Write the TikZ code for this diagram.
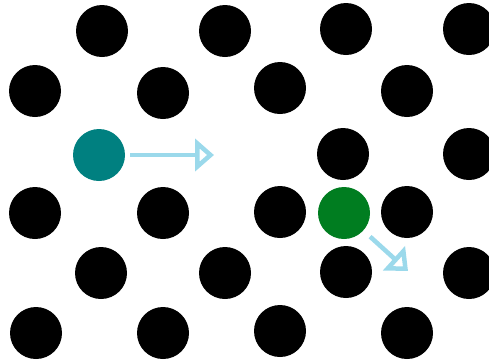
\documentclass[tikz,border=0pt]{standalone}
\usetikzlibrary{arrows.meta}
\definecolor{tealc}{RGB}{0,128,128}
\definecolor{greenc}{RGB}{0,125,32}
\definecolor{arrc}{RGB}{155,217,235}
\begin{document}
\begin{tikzpicture}[x=1pt,y=-1pt,
  dot/.style={circle,fill=black,minimum size=52pt,inner sep=0pt},
  arr/.style={draw=arrc,line width=4.5pt,-{Triangle[open,length=19pt,width=32pt,line width=4.5pt]}}]
\useasboundingbox (0,0) rectangle (489,360);
\clip (0,0) rectangle (489,360);
% row 1
\node[dot] (a1) at (102,31) {};
\node[dot] (a2) at (225,31) {};
\node[dot] (a3) at (346,29) {};
\node[dot] (a4) at (469,29) {};
% row 2
\node[dot] (b1) at (35,91) {};
\node[dot] (b2) at (163,93) {};
\node[dot] (b3) at (280,88) {};
\node[dot] (b4) at (407,91) {};
% row 3
\node[circle,fill=tealc,minimum size=52pt,inner sep=0pt] (t) at (99,155) {};
\node[dot] (c3) at (343,154) {};
\node[dot] (c4) at (469,154) {};
% row 4
\node[dot] (d1) at (35,213) {};
\node[dot] (d2) at (163,213) {};
\node[dot] (d3) at (280,212) {};
\node[circle,fill=greenc,minimum size=52pt,inner sep=0pt] (g) at (344,213) {};
\node[dot] (d4) at (407,212) {};
% row 5
\node[dot] (e1) at (101,273) {};
\node[dot] (e2) at (225,273) {};
\node[dot] (e3) at (346,272) {};
\node[dot] (e4) at (469,273) {};
% row 6
\node[dot] (f1) at (36,333) {};
\node[dot] (f2) at (163,333) {};
\node[dot] (f3) at (280,331) {};
\node[dot] (f4) at (407,333) {};
% arrows
\coordinate (ta) at (214,155);
\coordinate (ga) at (408,271);
\draw[arr,shorten <=5pt] (t) -- (ta);
\draw[arr,shorten <=9pt] (g) -- (ga);
\end{tikzpicture}
\end{document}
